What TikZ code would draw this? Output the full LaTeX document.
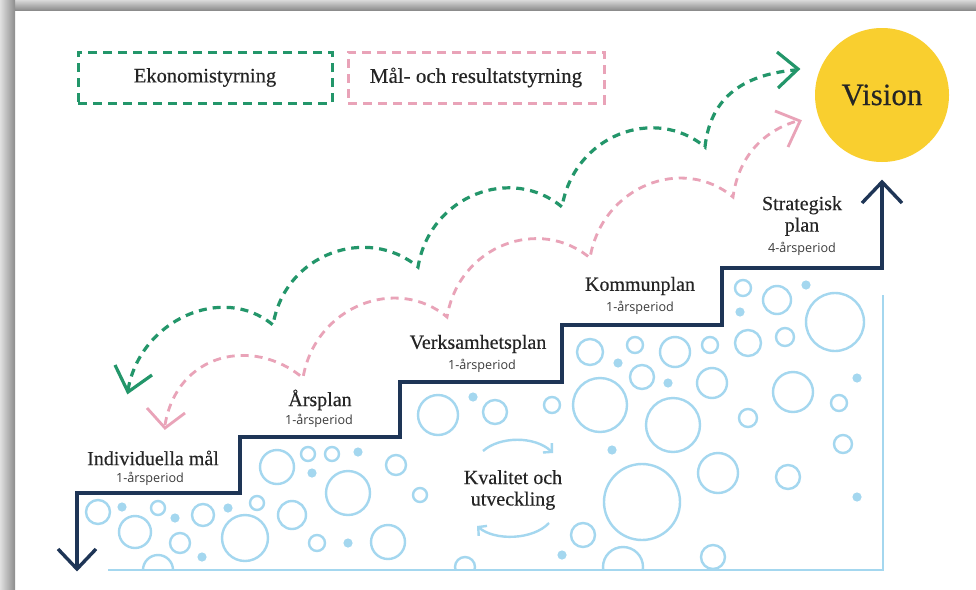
\documentclass[tikz,border=0pt]{standalone}
\usepackage{fontspec}
\setmainfont{Liberation Serif}[FakeBold=0.35]
\newfontfamily\subfnt{Open Sans}
\usetikzlibrary{arrows.meta}
\definecolor{navy}{HTML}{1E3556}
\definecolor{ekog}{HTML}{23966A}
\definecolor{malp}{HTML}{E9A3B8}
\definecolor{bub}{HTML}{A4D7EF}
\definecolor{visy}{HTML}{F9CF2F}
\definecolor{txt}{HTML}{252525}
\newcommand{\headf}{\fontsize{20}{21}\selectfont\color{txt}}
\newcommand{\subf}{\subfnt\fontsize{12.6}{14}\selectfont\color{txt!90}}
\begin{document}
\begin{tikzpicture}[x=1pt,y=-1pt,
  stair/.style={draw=navy,line width=3.4pt,line join=miter},
  stairhead/.style={draw=navy,line width=3.4pt,line join=miter,line cap=butt},
  gdash/.style={draw=ekog,line width=3.2pt,dash pattern=on 8pt off 6pt},
  pdash/.style={draw=malp,line width=2.8pt,dash pattern=on 8pt off 6pt},
  ghead/.style={draw=ekog,line width=3.2pt,line join=miter},
  phead/.style={draw=malp,line width=2.8pt,line join=miter},
  bubline/.style={draw=bub,line width=2.4pt},
  legbox/.style={line width=3pt,dash pattern=on 9pt off 6pt,minimum height=51pt,inner sep=0pt},
  lbl/.style={inner sep=0pt,align=center},
  twoline/.style={inner sep=0pt,align=center,text=txt,font=\fontsize{20}{21.5}\selectfont}
]
\useasboundingbox (0,0) rectangle (976,589);
\fill[white] (0,0) rectangle (976,589);
\shade[top color=black!15,bottom color=black!45] (0,0) rectangle (976,10);
\shade[left color=black!12,right color=black!45] (0,0) rectangle (15,589);

% legend
\node[legbox,draw=ekog,minimum width=254pt] (eko) at (205,77.5) {\headf\fontsize{20.5}{22}\selectfont Ekonomistyrning};
\node[legbox,draw=malp,minimum width=256pt] (mal) at (476,77.5) {\headf\fontsize{21}{22}\selectfont Mål- och resultatstyrning};

% vision
\node[circle,fill=visy,minimum size=134pt,inner sep=0pt] (vision) at (882,95) {\fontsize{31}{36}\selectfont\color{txt}Vision};

% bubbles
\begin{scope}
\clip (77,493) -- (240,493) -- (240,437) -- (400,437) -- (400,382) -- (562,382) -- (562,325) -- (722,325) -- (722,268) -- (882,268) -- (882,570) -- (77,570) -- cycle;
\foreach \x/\y/\r in {98/512/12, 158/508/7, 135/532/16, 180/543/10, 203/515/11, 245/538/23, 158/570/15,
  277/467/17, 308/454/7, 332/454/7, 396/465/10, 348/493/22, 257/503/7, 292/515/14, 420/495/7, 317/543/8,
  388/542/17, 438/415/20, 495/412/12, 552/405/8, 590/352/13, 635/345/8, 675/352/15, 710/345/8,
  642/377/12, 712/383/15, 600/405/27, 673/425/27, 743/288/8, 777/300/14, 835/322/29, 785/337/9,
  748/343/13, 793/392/20, 748/418/9, 839/403/8, 843/444/9, 718/473/20, 788/477/12, 642/502/38,
  583/535/12, 623/567/20, 713/557/12, 465/567/10}
  \draw[bubline] (\x,\y) circle[radius=\r pt];
\foreach \x/\y in {122/507, 175/518, 228/508, 202/557, 358/452, 312/473, 348/543, 473/397, 618/363,
  668/383, 612/450, 806/285, 740/312, 857/378, 857/497, 562/555}
  \fill[bub] (\x,\y) circle[radius=4.6pt];
\end{scope}
\draw[bubline] (108,570) -- (883,570) -- (883,295);

% quality cycle
\node[twoline] (kval) at (513,490) {Kvalitet och\\utveckling};
\draw[bubline,-{Straight Barb[length=6pt,width=13pt]}] (483,451) .. controls (500,436) and (535,436) .. (553,453);
\draw[bubline,-{Straight Barb[length=6pt,width=13pt]}] (549,523) .. controls (533,540) and (495,541) .. (477,526);

% stairs
\draw[stair] (77,567) -- (77,493) -- (240,493) -- (240,437) -- (400,437) -- (400,382) -- (562,382) -- (562,325) -- (722,325) -- (722,268) -- (882,268) -- (882,184);
\draw[stairhead] (58,549) -- (77,569) -- (96,549);
\draw[stairhead] (862,203) -- (882,182) -- (902,203);

% labels
\node[lbl] (ind) at (153,458) {\headf Individuella mål};
\node[lbl] (indp) at (150,479) {\subf 1-årsperiod};
\node[lbl] (ars) at (320,400) {\headf Årsplan};
\node[lbl] (arsp) at (319,421) {\subf 1-årsperiod};
\node[lbl] (verk) at (478,344) {\headf Verksamhetsplan};
\node[lbl] (verkp) at (482,366) {\subf 1-årsperiod};
\node[lbl] (komm) at (640,286) {\headf Kommunplan};
\node[lbl] (kommp) at (640,308) {\subf 1-årsperiod};
\node[twoline] (strat) at (802,216) {Strategisk\\plan};
\node[lbl] (stratp) at (802,249) {\subf 4-årsperiod};

% green dashed scallops
\draw[gdash] (128,390) .. controls (140,320) and (223,283) .. (273,325)
  .. controls (285,253) and (368,225) .. (418,267)
  .. controls (430,195) and (512,165) .. (562,207)
  .. controls (574,135) and (655,105) .. (705,147)
  .. controls (710,100) and (740,75) .. (795,70);
\draw[ghead] (115,365) -- (128,392) -- (152,375);
\draw[ghead] (777,52) -- (798,69) -- (778,88);

% pink dashed scallops
\draw[pdash] (165,425) .. controls (177,353) and (253,336) .. (303,378)
  .. controls (315,306) and (397,275) .. (447,317)
  .. controls (459,245) and (540,216) .. (590,258)
  .. controls (602,186) and (683,155) .. (733,197)
  .. controls (738,160) and (760,132) .. (797,121);
\draw[phead] (147,408) -- (165,428) -- (185,413);
\draw[phead] (775,111) -- (800,121) -- (788,147);
\end{tikzpicture}
\end{document}
